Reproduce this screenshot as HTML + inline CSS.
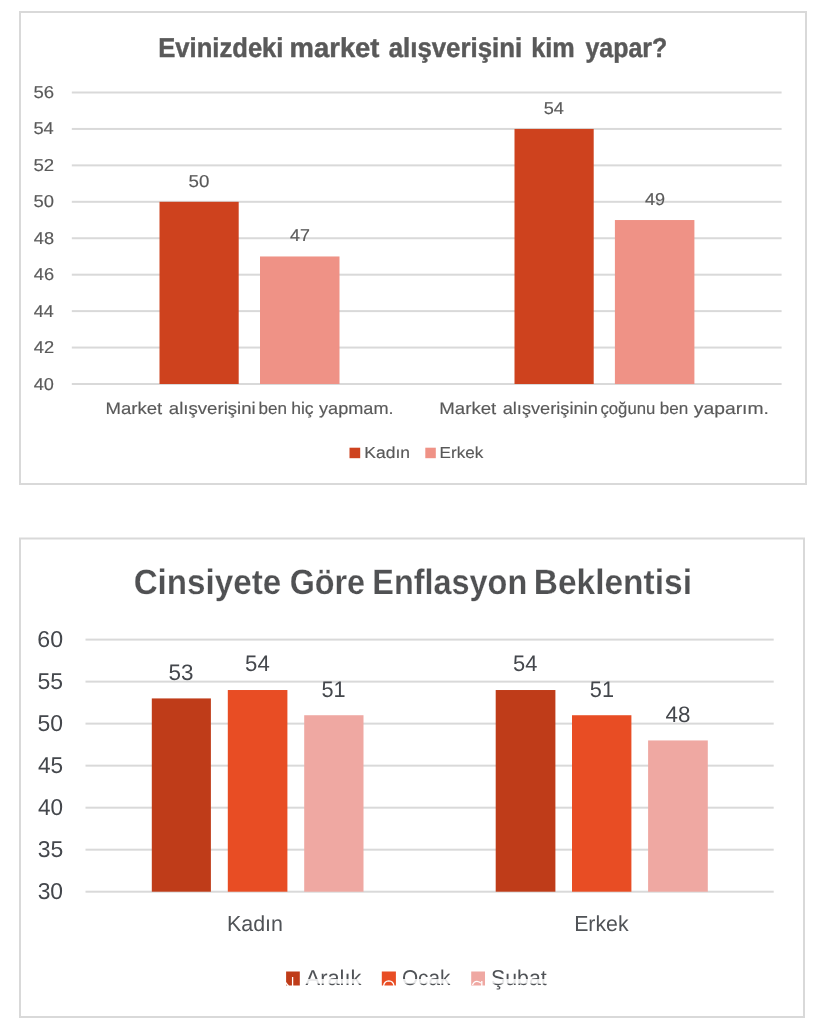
<!DOCTYPE html><html><head><meta charset="utf-8"><style>html,body{margin:0;padding:0;background:#fff;width:820px;height:1025px;overflow:hidden}svg{display:block}#w{will-change:transform}text{font-family:"Liberation Sans",sans-serif;font-kerning:none;text-rendering:geometricPrecision}</style></head><body>
<div id="w"><svg width="820" height="1025" viewBox="0 0 820 1025"><rect width="820" height="1025" fill="#fff"/><g>
<rect x="20" y="12" width="786" height="472" fill="none" stroke="#d9d9d9" stroke-width="2"/>
<text x="158.26" y="56.98" font-size="27.40" textLength="125.23" lengthAdjust="spacingAndGlyphs" font-weight="bold" fill="#595959" stroke="#595959" stroke-width="0.45">Evinizdeki</text>
<text x="289.62" y="56.98" font-size="27.40" textLength="89.89" lengthAdjust="spacingAndGlyphs" font-weight="bold" fill="#595959" stroke="#595959" stroke-width="0.45">market</text>
<text x="388.67" y="56.98" font-size="27.40" textLength="133.54" lengthAdjust="spacingAndGlyphs" font-weight="bold" fill="#595959" stroke="#595959" stroke-width="0.45">alışverişini</text>
<text x="531.16" y="56.98" font-size="27.40" textLength="43.48" lengthAdjust="spacingAndGlyphs" font-weight="bold" fill="#595959" stroke="#595959" stroke-width="0.45">kim</text>
<text x="585.43" y="56.98" font-size="27.40" textLength="81.78" lengthAdjust="spacingAndGlyphs" font-weight="bold" fill="#595959" stroke="#595959" stroke-width="0.45">yapar?</text>
<rect x="71.8" y="91.50" width="709.8" height="2" fill="#d9d9d9"/>
<rect x="71.8" y="127.94" width="709.8" height="2" fill="#d9d9d9"/>
<rect x="71.8" y="164.38" width="709.8" height="2" fill="#d9d9d9"/>
<rect x="71.8" y="200.81" width="709.8" height="2" fill="#d9d9d9"/>
<rect x="71.8" y="237.25" width="709.8" height="2" fill="#d9d9d9"/>
<rect x="71.8" y="273.69" width="709.8" height="2" fill="#d9d9d9"/>
<rect x="71.8" y="310.12" width="709.8" height="2" fill="#d9d9d9"/>
<rect x="71.8" y="346.56" width="709.8" height="2" fill="#d9d9d9"/>
<rect x="71.8" y="383.00" width="709.8" height="2" fill="#d9d9d9"/>
<text x="33.43" y="98.02" font-size="17.22" textLength="20.61" lengthAdjust="spacingAndGlyphs" fill="#595959" stroke="#595959" stroke-width="0.15">56</text>
<text x="33.44" y="134.46" font-size="17.22" textLength="20.32" lengthAdjust="spacingAndGlyphs" fill="#595959" stroke="#595959" stroke-width="0.15">54</text>
<text x="33.43" y="170.90" font-size="17.22" textLength="20.73" lengthAdjust="spacingAndGlyphs" fill="#595959" stroke="#595959" stroke-width="0.15">52</text>
<text x="33.44" y="207.34" font-size="17.22" textLength="20.51" lengthAdjust="spacingAndGlyphs" fill="#595959" stroke="#595959" stroke-width="0.15">50</text>
<text x="33.76" y="243.78" font-size="17.22" textLength="20.26" lengthAdjust="spacingAndGlyphs" fill="#595959" stroke="#595959" stroke-width="0.15">48</text>
<text x="33.76" y="280.21" font-size="17.22" textLength="20.27" lengthAdjust="spacingAndGlyphs" fill="#595959" stroke="#595959" stroke-width="0.15">46</text>
<text x="33.76" y="316.65" font-size="17.22" textLength="19.99" lengthAdjust="spacingAndGlyphs" fill="#595959" stroke="#595959" stroke-width="0.15">44</text>
<text x="33.75" y="353.09" font-size="17.22" textLength="20.39" lengthAdjust="spacingAndGlyphs" fill="#595959" stroke="#595959" stroke-width="0.15">42</text>
<text x="33.76" y="389.53" font-size="17.22" textLength="20.17" lengthAdjust="spacingAndGlyphs" fill="#595959" stroke="#595959" stroke-width="0.15">40</text>
<rect x="159.50" y="201.81" width="79.20" height="182.19" fill="#ce421e"/>
<rect x="260.00" y="256.47" width="79.50" height="127.53" fill="#ef9286"/>
<rect x="514.50" y="128.94" width="79.20" height="255.06" fill="#ce421e"/>
<rect x="614.90" y="220.03" width="79.50" height="163.97" fill="#ef9286"/>
<text x="188.63" y="186.73" font-size="17.22" textLength="20.83" lengthAdjust="spacingAndGlyphs" fill="#595959" stroke="#595959" stroke-width="0.15">50</text>
<text x="289.97" y="240.93" font-size="17.22" textLength="19.86" lengthAdjust="spacingAndGlyphs" fill="#595959" stroke="#595959" stroke-width="0.15">47</text>
<text x="543.65" y="114.02" font-size="17.22" textLength="20.21" lengthAdjust="spacingAndGlyphs" fill="#595959" stroke="#595959" stroke-width="0.15">54</text>
<text x="645.06" y="205.23" font-size="17.22" textLength="20.12" lengthAdjust="spacingAndGlyphs" fill="#595959" stroke="#595959" stroke-width="0.15">49</text>
<text x="105.55" y="414.43" font-size="16.79" textLength="56.71" lengthAdjust="spacingAndGlyphs" fill="#595959" stroke="#595959" stroke-width="0.15">Market</text>
<text x="168.78" y="414.43" font-size="16.79" textLength="87.00" lengthAdjust="spacingAndGlyphs" fill="#595959" stroke="#595959" stroke-width="0.15">alışverişini</text>
<text x="258.48" y="414.43" font-size="16.79" textLength="28.46" lengthAdjust="spacingAndGlyphs" fill="#595959" stroke="#595959" stroke-width="0.15">ben</text>
<text x="291.16" y="414.43" font-size="16.79" textLength="22.43" lengthAdjust="spacingAndGlyphs" fill="#595959" stroke="#595959" stroke-width="0.15">hiç</text>
<text x="319.03" y="414.43" font-size="16.79" textLength="74.55" lengthAdjust="spacingAndGlyphs" fill="#595959" stroke="#595959" stroke-width="0.15">yapmam.</text>
<text x="439.35" y="414.43" font-size="16.79" textLength="56.91" lengthAdjust="spacingAndGlyphs" fill="#595959" stroke="#595959" stroke-width="0.15">Market</text>
<text x="502.70" y="414.43" font-size="16.79" textLength="95.11" lengthAdjust="spacingAndGlyphs" fill="#595959" stroke="#595959" stroke-width="0.15">alışverişinin</text>
<text x="600.46" y="414.43" font-size="16.79" textLength="54.87" lengthAdjust="spacingAndGlyphs" fill="#595959" stroke="#595959" stroke-width="0.15">çoğunu</text>
<text x="659.78" y="414.43" font-size="16.79" textLength="28.46" lengthAdjust="spacingAndGlyphs" fill="#595959" stroke="#595959" stroke-width="0.15">ben</text>
<text x="693.83" y="414.43" font-size="16.79" textLength="75.06" lengthAdjust="spacingAndGlyphs" fill="#595959" stroke="#595959" stroke-width="0.15">yaparım.</text>
<rect x="349.5" y="447.7" width="10.7" height="10.5" fill="#ce421e"/>
<text x="364.34" y="457.82" font-size="16.06" textLength="45.72" lengthAdjust="spacingAndGlyphs" fill="#595959" stroke="#595959" stroke-width="0.15">Kadın</text>
<rect x="425.3" y="447.7" width="10.5" height="10.5" fill="#ef9286"/>
<text x="439.57" y="457.82" font-size="16.06" textLength="43.73" lengthAdjust="spacingAndGlyphs" fill="#595959" stroke="#595959" stroke-width="0.15">Erkek</text>
<rect x="20" y="538.5" width="784" height="478.5" fill="none" stroke="#d9d9d9" stroke-width="2"/>
<text x="133.64" y="594.40" font-size="35.18" textLength="147.60" lengthAdjust="spacingAndGlyphs" font-weight="bold" fill="#505153" stroke="#ffffff" stroke-width="0.2">Cinsiyete</text>
<text x="289.67" y="594.40" font-size="35.18" textLength="75.43" lengthAdjust="spacingAndGlyphs" font-weight="bold" fill="#505153" stroke="#ffffff" stroke-width="0.2">Göre</text>
<text x="372.33" y="594.40" font-size="35.18" textLength="154.88" lengthAdjust="spacingAndGlyphs" font-weight="bold" fill="#505153" stroke="#ffffff" stroke-width="0.2">Enflasyon</text>
<text x="533.76" y="594.40" font-size="35.18" textLength="158.21" lengthAdjust="spacingAndGlyphs" font-weight="bold" fill="#505153" stroke="#ffffff" stroke-width="0.2">Beklentisi</text>
<rect x="85.5" y="638.60" width="688.2" height="2" fill="#d9d9d9"/>
<rect x="85.5" y="680.62" width="688.2" height="2" fill="#d9d9d9"/>
<rect x="85.5" y="722.63" width="688.2" height="2" fill="#d9d9d9"/>
<rect x="85.5" y="764.65" width="688.2" height="2" fill="#d9d9d9"/>
<rect x="85.5" y="806.67" width="688.2" height="2" fill="#d9d9d9"/>
<rect x="85.5" y="848.68" width="688.2" height="2" fill="#d9d9d9"/>
<rect x="85.5" y="890.70" width="688.2" height="2" fill="#d9d9d9"/>
<text x="37.32" y="646.90" font-size="22.97" textLength="25.78" lengthAdjust="spacingAndGlyphs" fill="#44474c">60</text>
<text x="37.58" y="688.92" font-size="22.97" textLength="25.59" lengthAdjust="spacingAndGlyphs" fill="#44474c">55</text>
<text x="37.58" y="730.93" font-size="22.97" textLength="25.51" lengthAdjust="spacingAndGlyphs" fill="#44474c">50</text>
<text x="37.98" y="772.95" font-size="22.97" textLength="25.17" lengthAdjust="spacingAndGlyphs" fill="#44474c">45</text>
<text x="37.98" y="814.97" font-size="22.97" textLength="25.10" lengthAdjust="spacingAndGlyphs" fill="#44474c">40</text>
<text x="37.63" y="856.98" font-size="22.97" textLength="25.54" lengthAdjust="spacingAndGlyphs" fill="#44474c">35</text>
<text x="37.63" y="899.00" font-size="22.97" textLength="25.47" lengthAdjust="spacingAndGlyphs" fill="#44474c">30</text>
<rect x="151.80" y="698.42" width="59.10" height="193.28" fill="#bf3c19"/>
<rect x="227.80" y="690.02" width="59.60" height="201.68" fill="#e84d24"/>
<rect x="304.20" y="715.23" width="59.30" height="176.47" fill="#efa8a2"/>
<rect x="495.70" y="690.02" width="59.70" height="201.68" fill="#bf3c19"/>
<rect x="572.00" y="715.23" width="59.40" height="176.47" fill="#e84d24"/>
<rect x="648.10" y="740.44" width="59.70" height="151.26" fill="#efa8a2"/>
<text x="168.40" y="679.60" font-size="22.38" textLength="24.99" lengthAdjust="spacingAndGlyphs" fill="#44474c">53</text>
<text x="245.11" y="670.80" font-size="22.38" textLength="24.64" lengthAdjust="spacingAndGlyphs" fill="#44474c">54</text>
<text x="321.43" y="697.00" font-size="22.38" textLength="24.13" lengthAdjust="spacingAndGlyphs" fill="#44474c">51</text>
<text x="513.12" y="671.00" font-size="22.38" textLength="24.32" lengthAdjust="spacingAndGlyphs" fill="#44474c">54</text>
<text x="589.83" y="697.00" font-size="22.38" textLength="24.13" lengthAdjust="spacingAndGlyphs" fill="#44474c">51</text>
<text x="665.59" y="721.90" font-size="22.38" textLength="24.89" lengthAdjust="spacingAndGlyphs" fill="#44474c">48</text>
<text x="227.04" y="930.90" font-size="21.80" textLength="55.95" lengthAdjust="spacingAndGlyphs" fill="#505357">Kadın</text>
<text x="574.15" y="930.90" font-size="21.80" textLength="54.42" lengthAdjust="spacingAndGlyphs" fill="#505357">Erkek</text>
<rect x="286.1" y="971.5" width="13.7" height="14" fill="#bf3c19"/>
<text x="305.56" y="984.90" font-size="21.37" textLength="55.91" lengthAdjust="spacingAndGlyphs" fill="#505357">Aralık</text>
<rect x="381.8" y="971.5" width="14.1" height="14" fill="#e84d24"/>
<text x="401.91" y="984.90" font-size="21.37" textLength="48.55" lengthAdjust="spacingAndGlyphs" fill="#505357">Ocak</text>
<rect x="471.2" y="971.5" width="13.8" height="14" fill="#efa8a2"/>
<text x="491.03" y="984.90" font-size="21.37" textLength="55.72" lengthAdjust="spacingAndGlyphs" fill="#505357">Şubat</text>
<rect x="304.5" y="979.0" width="58.0" height="4.6" fill="#ffffff" fill-opacity="0.85"/>
<rect x="402.0" y="979.0" width="49.5" height="4.6" fill="#ffffff" fill-opacity="0.85"/>
<rect x="491.0" y="979.0" width="56.5" height="4.6" fill="#ffffff" fill-opacity="0.85"/>
<path d="M292.6 977 V986" fill="none" stroke="#ffffff" stroke-width="1.3"/>
<path d="M285.5 982.5 L288.5 986" fill="none" stroke="#ffffff" stroke-width="1.3"/>
<path d="M383.6 986 Q384.2 981 388.8 980.8 Q393.4 981 394 986" fill="none" stroke="#ffffff" stroke-width="1.3"/>
<path d="M472.5 985 Q474 981.2 477 981.3 Q479.6 981.5 481 983.2" fill="none" stroke="#ffffff" stroke-width="1.3"/>
<path d="M481.8 981 V986" fill="none" stroke="#ffffff" stroke-width="1.3"/>
</g></svg></div></body></html>
